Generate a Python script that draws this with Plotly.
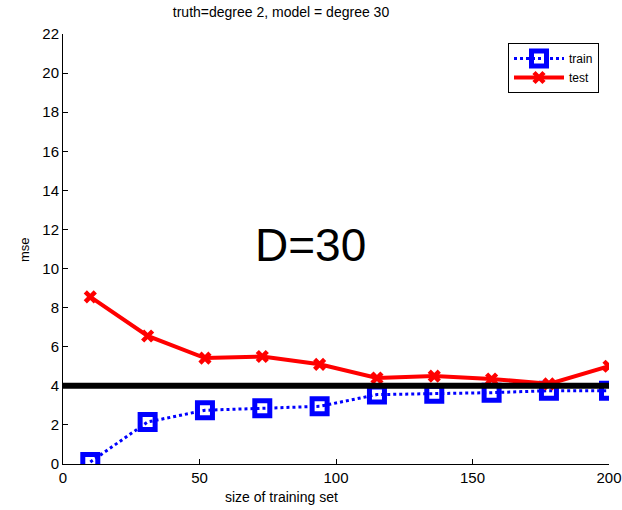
import plotly.graph_objects as go

# Data
train_size = [10, 31, 52, 73, 94, 115, 136, 157, 178, 200]
train_mse = [0.1, 2.15, 2.75, 2.85, 2.95, 3.55, 3.6, 3.65, 3.75, 3.75]
test_mse = [8.55, 6.55, 5.42, 5.5, 5.1, 4.4, 4.5, 4.35, 4.1, 5.0]
noise_x = [0, 200]
noise_y = [4, 4]
x_ticks = [0, 50, 100, 150, 200]
y_ticks = list(range(0, 23, 2))

FONT = "Liberation Sans, Arial, Helvetica, sans-serif"

fig = go.Figure()
fig.add_trace(go.Scatter(
    x=train_size, y=train_mse, name="train", mode="lines+markers",
    line=dict(color="#0000ff", width=3, dash="dot"),
    marker=dict(symbol="square-open", size=15, color="#0000ff",
                line=dict(color="#0000ff", width=5)),
))
fig.add_trace(go.Scatter(
    x=train_size, y=test_mse, name="test", mode="lines+markers",
    line=dict(color="#ff0000", width=4),
    marker=dict(symbol="x-thin-open", size=10, color="#ff0000",
                line=dict(color="#ff0000", width=4.5)),
))
fig.add_trace(go.Scatter(
    x=noise_x, y=noise_y, mode="lines", showlegend=False,
    line=dict(color="black", width=6),
))

fig.update_layout(
    width=622, height=510,
    margin=dict(l=63, r=13, t=34, b=46, autoexpand=False),
    paper_bgcolor="white", plot_bgcolor="white",
    font=dict(family=FONT, color="black", size=15),
    title=dict(text="truth=degree 2, model = degree 30",
               x=281/622, xref="container", xanchor="center",
               y=1-12/510, yref="container", yanchor="middle",
               font=dict(size=14, family=FONT)),
    showlegend=True,
    legend=dict(x=(599-63)/546, y=(464-43)/430, xanchor="right", yanchor="top",
                bordercolor="black", borderwidth=1, bgcolor="white",
                font=dict(size=12, family=FONT), tracegroupgap=0,
                itemwidth=50),
    xaxis=dict(range=[0, 200], tickvals=x_ticks, ticks="inside", ticklen=5,
               tickcolor="black", showline=True, linecolor="black", linewidth=1,
               showgrid=False, zeroline=False, mirror=False, automargin=False,
               tickfont=dict(size=15)),
    yaxis=dict(range=[0, 22], tickvals=y_ticks, ticks="inside", ticklen=5,
               tickcolor="black", showline=True, linecolor="black", linewidth=1,
               showgrid=False, zeroline=False, mirror=False, automargin=False,
               tickfont=dict(size=15)),
    annotations=[
        dict(text="D=30", x=90.8, y=11.2, xref="x", yref="y",
             showarrow=False, font=dict(size=46, family=FONT)),
        dict(text="size of training set", x=(281-63)/546, y=(464-497)/430,
             xref="paper", yref="paper", showarrow=False,
             xanchor="center", yanchor="middle",
             font=dict(size=14, family=FONT)),
        dict(text="mse", x=(24-63)/546, y=(464-250)/430,
             xref="paper", yref="paper", showarrow=False, textangle=-90,
             xanchor="center", yanchor="middle",
             font=dict(size=13, family=FONT)),
    ],
)

fig.write_html("out.html")
